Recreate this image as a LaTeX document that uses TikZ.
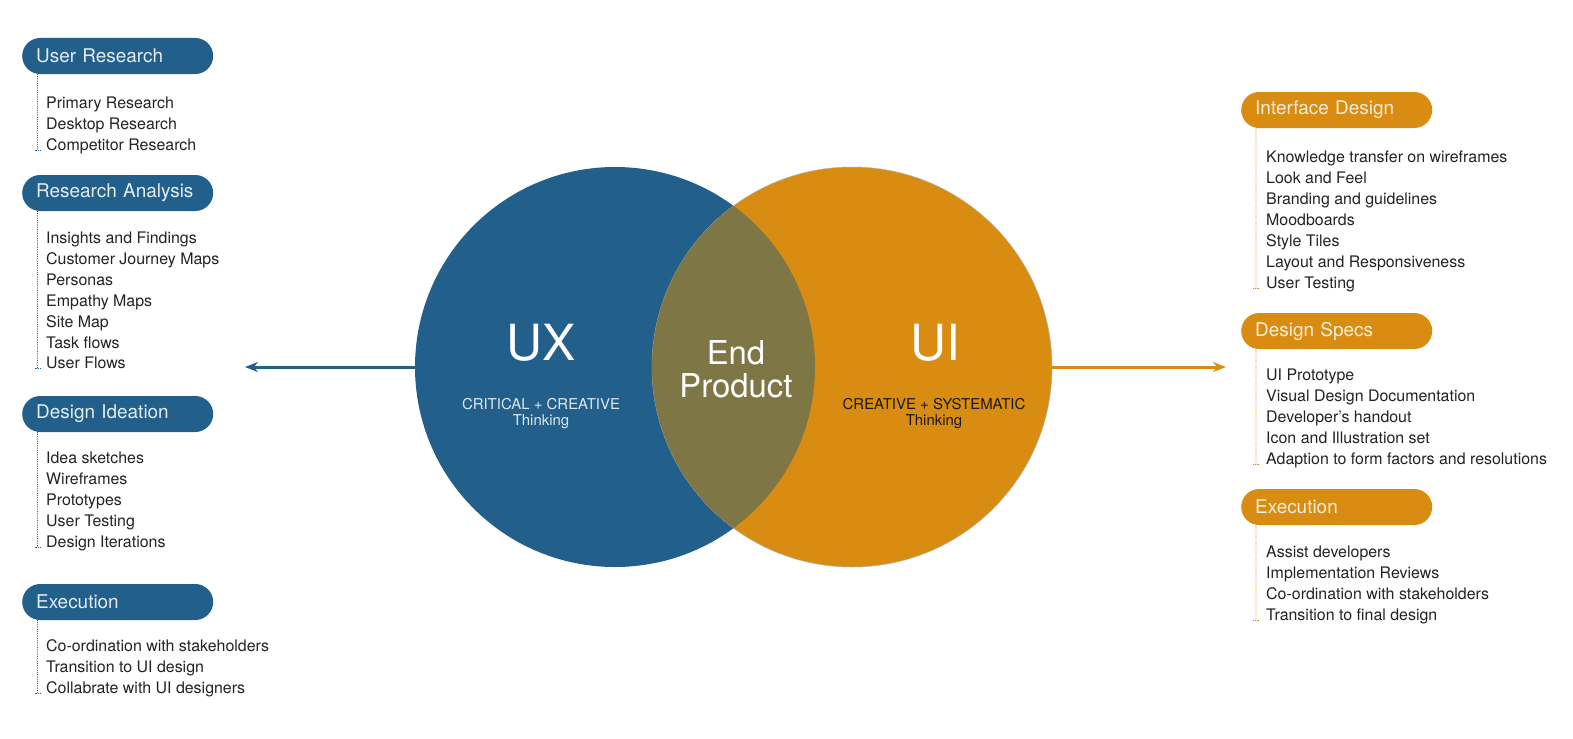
\documentclass[tikz,border=0pt]{standalone}
\usepackage{fontspec}
\setmainfont{TeX Gyre Heros}
\usetikzlibrary{arrows.meta,positioning}
\definecolor{uxblue}{HTML}{22608B}
\definecolor{uiorange}{HTML}{D88C12}
\definecolor{endolive}{HTML}{7F7645}
\definecolor{itemgray}{HTML}{222222}
\tikzstyle{uxpill}=[rectangle,rounded corners=18bp,fill=uxblue,minimum width=191bp,minimum height=36bp,inner xsep=14bp,text width=163bp,align=left,anchor=west,text=white!88!uxblue,font=\fontsize{19}{20}\selectfont]
\tikzstyle{uipill}=[uxpill,fill=uiorange,text=white!85!uiorange]
\tikzstyle{item}=[anchor=base west,inner sep=0pt,text=itemgray,font=\fontsize{16}{18}\selectfont]
\tikzstyle{uxdots}=[draw=uxblue,densely dotted,line width=0.8pt]
\tikzstyle{uidots}=[draw=uiorange,densely dotted,line width=0.8pt]
\tikzstyle{bigarrow}=[line width=3bp,-{Stealth[length=13bp,width=10bp]}]

\begin{document}
\begin{tikzpicture}[x=1bp,y=-1bp]
\useasboundingbox (0,0) rectangle (1573,739);

% Venn circles
\node[circle,fill=uxblue,minimum size=400bp,inner sep=0pt] (ux) at (615,367) {};
\node[circle,fill=uiorange,draw=black!30,line width=0.5pt,minimum size=400bp,inner sep=0pt] (ui) at (852,367) {};
\begin{scope}
  \clip (615,367) circle [radius=200bp];
  \fill[endolive] (852,367) circle [radius=200bp];
\end{scope}

\node[text=white,font=\fontsize{50}{52}\selectfont] (uxlabel) at (541,343) {UX};
\node[text=white,font=\fontsize{50}{52}\selectfont] (uilabel) at (935,343) {UI};
\node[text=white,align=center,font=\fontsize{33}{33}\selectfont] (endlabel) at (736,369) {End\\Product};
\node[text=white!85!uxblue,align=center,font=\fontsize{15}{16}\selectfont] (uxthink) at (541,414) {CRITICAL + CREATIVE\\Thinking};
\node[text=black!90,align=center,font=\fontsize{15}{16}\selectfont] (uithink) at (934,414) {CREATIVE + SYSTEMATIC\\Thinking};

% Arrows
\coordinate (uxend) at (245,367);
\coordinate (uiend) at (1226,367);
\draw[bigarrow,uxblue] (ux.west) -- (uxend);
\draw[bigarrow,uiorange] (ui.east) -- (uiend);

% UX side
\foreach \pos/\name/\label in {{(22,56)/userres/User Research},{(22,193)/resana/Research Analysis},{(22,414)/ideation/Design Ideation},{(22,602)/uxexec/Execution}}
    \node[uxpill] (\name) at \pos {\label};

\foreach \y/\name/\label in {108/ur1/Primary Research, 129/ur2/Desktop Research, 150/ur3/Competitor Research,
    243/ra1/Insights and Findings, 264/ra2/Customer Journey Maps, 285/ra3/Personas, 306/ra4/Empathy Maps, 327/ra5/Site Map, 348/ra6/Task flows, 368/ra7/User Flows,
    463/di1/Idea sketches, 484/di2/Wireframes, 505/di3/Prototypes, 526/di4/User Testing, 547/di5/Design Iterations,
    651/ue1/Co-ordination with stakeholders, 672/ue2/Transition to UI design, 693/ue3/Collabrate with UI designers}
    \node[item] (\name) at (46,\y) {\label};

\foreach \pill/\last in {userres/ur3, resana/ra7, ideation/di5, uxexec/ue3}
  {
    \coordinate (\pill-end) at (37.5,0 |- \last.base);
    \draw[uxdots] ([xshift=15.5bp]\pill.south west) -- (\pill-end);
    \draw[uxdots] ([xshift=-3bp]\pill-end) -- ([xshift=3bp]\pill-end);
  }

% UI side
\foreach \pos/\name/\label in {{(1241,110)/interface/Interface Design},{(1241,331)/specs/Design Specs},{(1241,507)/uiexec/Execution}}
    \node[uipill] (\name) at \pos {\label};

\foreach \y/\name/\label in {162/id1/Knowledge transfer on wireframes, 183/id2/Look and Feel, 204/id3/Branding and guidelines, 225/id4/Moodboards, 246/id5/Style Tiles, 267/id6/Layout and Responsiveness, 288/id7/User Testing,
    380/ds1/UI Prototype, 401/ds2/Visual Design Documentation, 422/ds3/Developer’s handout, 443/ds4/Icon and Illustration set, 464/ds5/Adaption to form factors and resolutions,
    557/ie1/Assist developers, 578/ie2/Implementation Reviews, 599/ie3/Co-ordination with stakeholders, 620/ie4/Transition to final design}
    \node[item] (\name) at (1266,\y) {\label};

\foreach \pill/\last in {interface/id7, specs/ds5, uiexec/ie4}
  {
    \coordinate (\pill-end) at (1256,0 |- \last.base);
    \draw[uidots] ([xshift=15bp]\pill.south west) -- (\pill-end);
    \draw[uidots] ([xshift=-3bp]\pill-end) -- ([xshift=3bp]\pill-end);
  }

\end{tikzpicture}
\end{document}
